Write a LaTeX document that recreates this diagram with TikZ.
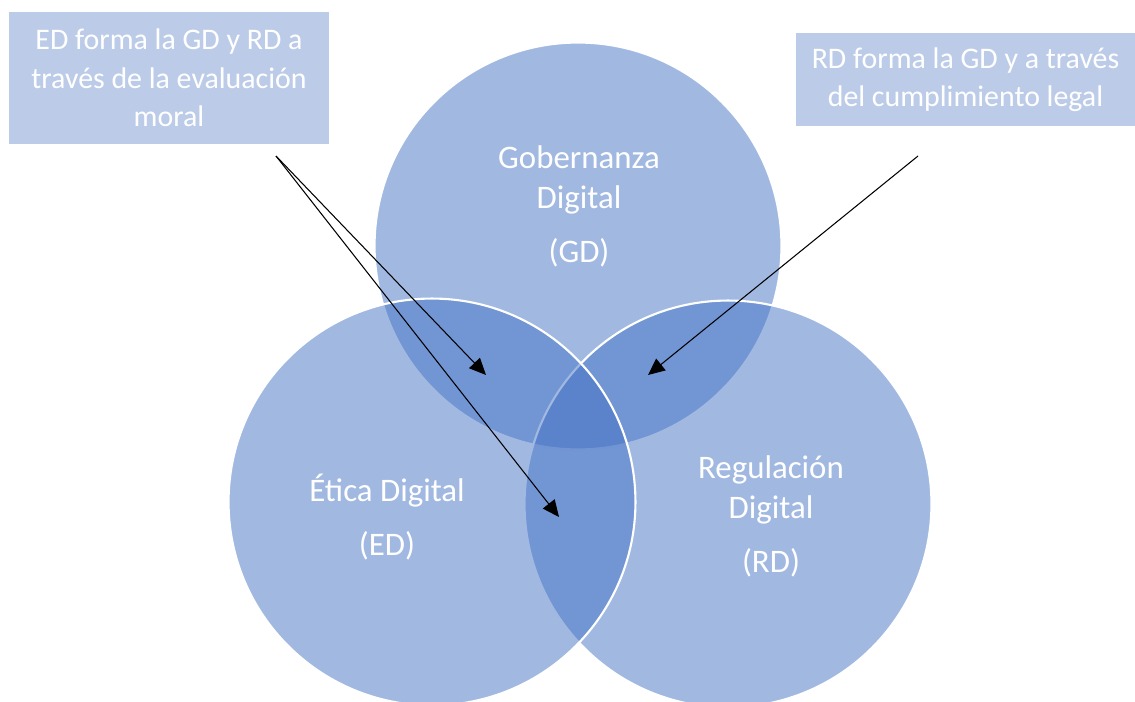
\documentclass[tikz,border=0pt]{standalone}
\usepackage{fontspec}
\setmainfont{Carlito}
\usepackage{tikz}
\usetikzlibrary{arrows.meta, positioning}
\definecolor{vennblue}{HTML}{4472C4}
\definecolor{noteblue}{HTML}{BCCCE8}

\begin{document}
\begin{tikzpicture}[
  x=0.02cm, y=-0.02cm,
  venn/.style={circle, draw=white, line width=1.2pt, fill=vennblue, fill opacity=0.5,
               minimum size=8.14cm, inner sep=0pt},
  vlabel/.style={text=white, align=center, font=\fontsize{18.7}{22.7}\selectfont},
  note/.style={fill=noteblue, text=white, align=center, inner sep=0pt,
               font=\fontsize{17}{21.8}\selectfont},
  >={Triangle[length=9.5pt, width=8.5pt]}
]
\useasboundingbox (0,0) rectangle (1135,702);

\node[venn] (gd) at (578,246) {};
\node[venn] (rd) at (728,504) {};
\node[venn] (ed) at (432,502) {};

\node[vlabel] (gdtxt) at (579,206) {Gobernanza\\Digital\\[8pt](GD)};
\node[vlabel] (edtxt) at (387,517) {Ética Digital\\[8pt](ED)};
\node[vlabel] (rdtxt) at (771,516) {Regulación\\Digital\\[8pt](RD)};

\node[note, minimum width=6.4cm, minimum height=2.64cm] (ednote) at (169,78)
  {ED forma la GD y RD a\\través de la evaluación\\moral};
\node[note, minimum width=6.78cm, minimum height=1.86cm] (rdnote) at (965.5,79.5)
  {RD forma la GD y a través\\del cumplimiento legal};

\coordinate (edsrc) at (276,156);
\coordinate (rdsrc) at (918,156);
\coordinate (gdedzone) at (486,375);
\coordinate (edrdzone) at (559,517);
\coordinate (gdrdzone) at (648,375);

\draw[->, line width=0.6pt] (edsrc) -- (gdedzone);
\draw[->, line width=0.6pt] (edsrc) -- (edrdzone);
\draw[->, line width=0.6pt] (rdsrc) -- (gdrdzone);
\end{tikzpicture}
\end{document}
